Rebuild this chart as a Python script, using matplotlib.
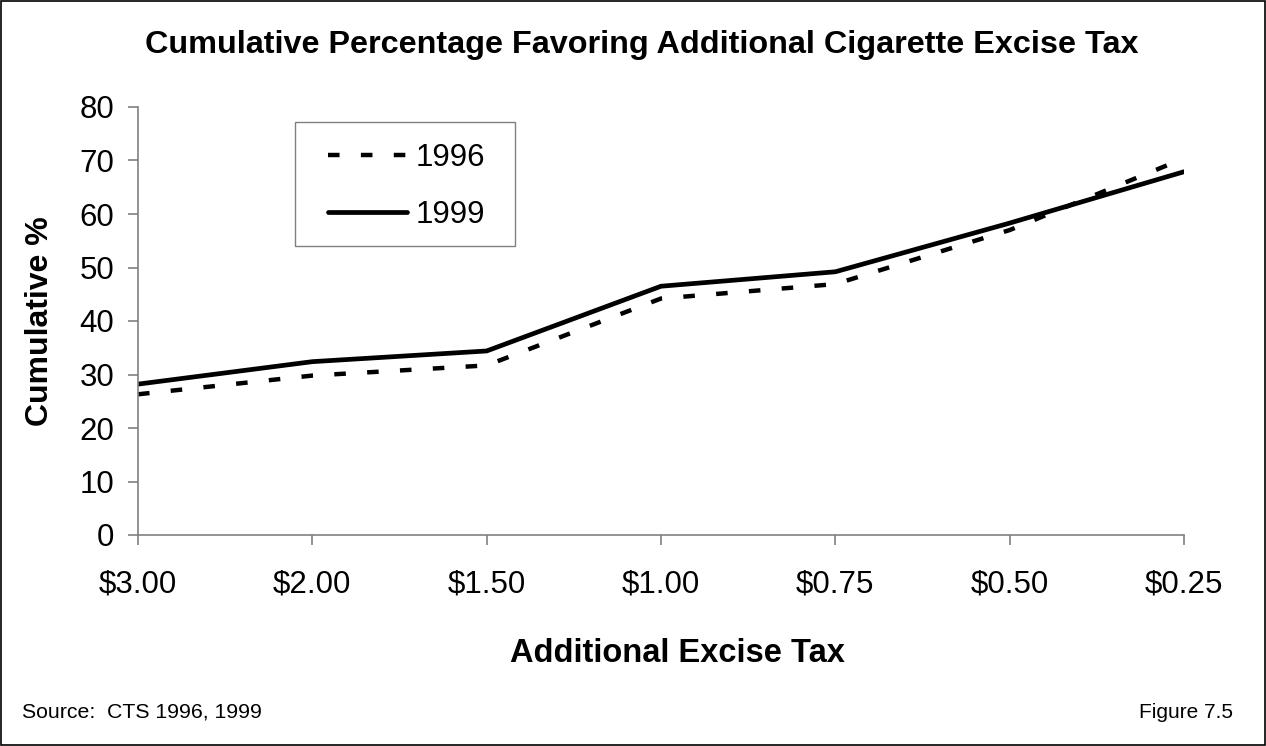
import matplotlib
matplotlib.use("Agg")
import matplotlib.pyplot as plt
from matplotlib.patches import Rectangle

# Additional excise tax levels and cumulative percentage in favour
tax_levels = ["$3.00", "$2.00", "$1.50", "$1.00", "$0.75", "$0.50", "$0.25"]
pct_1996 = [26.3, 29.8, 31.7, 44.2, 46.9, 57.0, 70.4]
pct_1999 = [28.2, 32.4, 34.4, 46.5, 49.2, 58.3, 67.9]
y_ticks = [0, 10, 20, 30, 40, 50, 60, 70, 80]

plt.rcParams["font.family"] = ["Liberation Sans", "DejaVu Sans"]

W, H = 1266, 746
fig = plt.figure(figsize=(W / 100, H / 100), dpi=100)
ax_l, ax_r, ax_t, ax_b = 138, 1184, 107, 535
ax = fig.add_axes([ax_l / W, 1 - ax_b / H, (ax_r - ax_l) / W, (ax_b - ax_t) / H])


def to_axes(px, py):
    """Pixel position in the figure -> axes fraction."""
    return (px - ax_l) / (ax_r - ax_l), (ax_b - py) / (ax_b - ax_t)


x = list(range(len(tax_levels)))
ax.plot(x, pct_1996, color="black", lw=3.2, linestyle=(0, (2.6, 4.8)),
        dash_capstyle="butt", label="1996")
ax.plot(x, pct_1999, color="black", lw=3.4, solid_capstyle="round", label="1999")

ax.set_xlim(0, len(tax_levels) - 1)
ax.set_ylim(0, 80)
ax.set_xticks(x)
ax.set_xticklabels(tax_levels)
ax.set_yticks(y_ticks)

for side in ("top", "right"):
    ax.spines[side].set_visible(False)
for side in ("left", "bottom"):
    ax.spines[side].set_color("#808080")
    ax.spines[side].set_linewidth(1.2)

ax.tick_params(axis="both", colors="#808080", labelcolor="black", labelsize=22.5,
               length=7, width=1.2, direction="out")
ax.tick_params(axis="y", pad=10)
ax.tick_params(axis="x", pad=18)

# Legend entries without frame; the frame is drawn as a separate box
leg = ax.legend(loc="upper left", bbox_to_anchor=to_axes(328, 143),
                fontsize=22.5, frameon=False, handlelength=2.53, handletextpad=0.26,
                borderpad=0, labelspacing=0.86, borderaxespad=0)
bx0, by1 = to_axes(295, 122)
bx1, by0 = to_axes(515, 246)
ax.add_patch(Rectangle((bx0, by0), bx1 - bx0, by1 - by0, transform=ax.transAxes,
                       fill=False, edgecolor="#808080", linewidth=1.0, zorder=5))

fig.text(642 / W, 1 - 45 / H, "Cumulative Percentage Favoring Additional Cigarette Excise Tax",
         ha="center", va="center", fontsize=23.3, fontweight="bold")
fig.text(40 / W, 1 - 321 / H, "Cumulative %", rotation=90, ha="center", va="center",
         fontsize=23, fontweight="bold")
fig.text(677 / W, 1 - 654 / H, "Additional Excise Tax", ha="center", va="center",
         fontsize=23.5, fontweight="bold")
fig.text(22 / W, 1 - 712 / H, "Source:  CTS 1996, 1999", ha="left", va="center", fontsize=15.3)
fig.text(1233 / W, 1 - 712 / H, "Figure 7.5", ha="right", va="center", fontsize=15)

fig.patches.append(Rectangle((0.001, 0.001), 0.998, 0.997, transform=fig.transFigure,
                             fill=False, edgecolor="black", linewidth=1.2))

fig.savefig("out.png", dpi=100)
